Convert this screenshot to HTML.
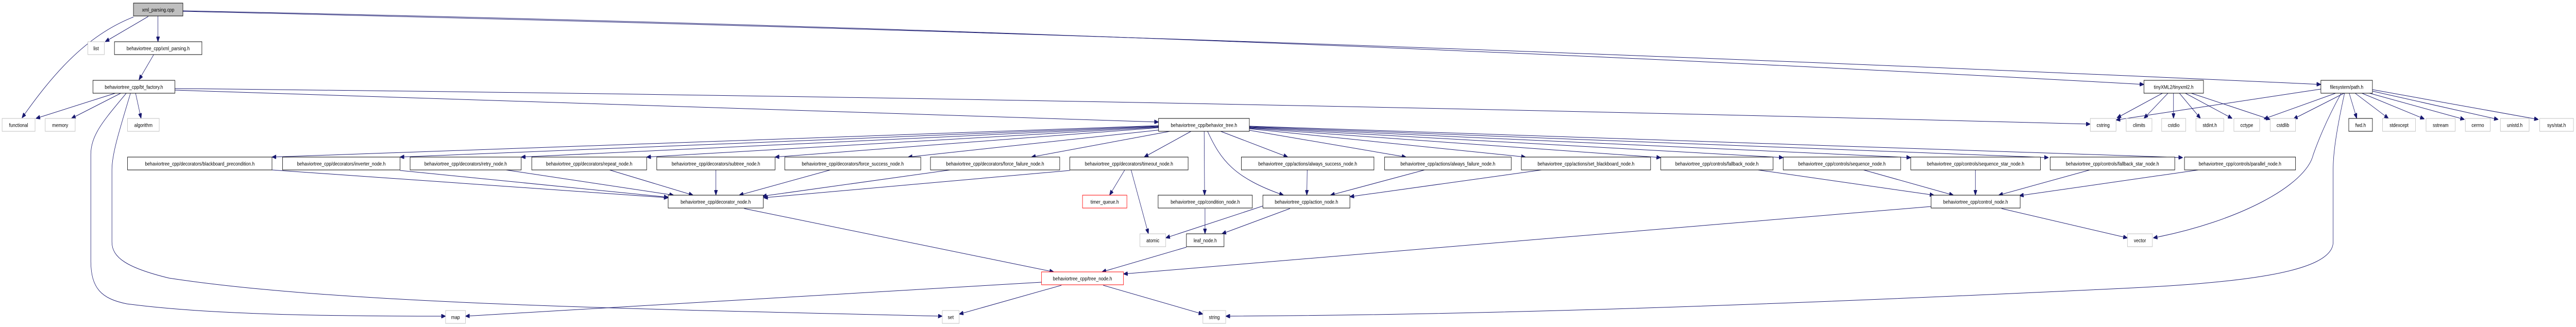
<!DOCTYPE html>
<html><head><meta charset="utf-8"><style>
html,body{margin:0;padding:0;background:#fff;width:100%;height:100%;overflow:hidden;}
svg{display:block;width:100vw;height:100vh;}
text{font-family:"Liberation Sans",sans-serif;font-size:10.5px;fill:#000;text-anchor:middle;}
.e{stroke:#191970;stroke-width:1;fill:none;marker-end:url(#a);}
.n{fill:#fff;stroke:#000;stroke-width:1;}
.g{fill:#fff;stroke:#bfbfbf;stroke-width:1;}
.r{fill:#fff;stroke:#ff0000;stroke-width:1;}
</style></head><body>
<svg viewBox="0 0 6099 635" preserveAspectRatio="none" xmlns="http://www.w3.org/2000/svg">
<defs><marker id="a" markerUnits="userSpaceOnUse" markerWidth="10" markerHeight="8" refX="10" refY="4" orient="auto"><path d="M0,0 L10,4 L0,8 z" fill="#191970" stroke="#191970"/></marker></defs>
<g>
<path class="e" d="M316,33 C200,70 120,150 52,229"/>
<line class="e" x1="351" y1="32" x2="249" y2="81"/>
<line class="e" x1="374" y1="31" x2="374" y2="81"/>
<path class="e" d="M433,21 Q2800,60 5076,164"/>
<path class="e" d="M433,22 Q3000,70 5495,164"/>
<line class="e" x1="364" y1="106" x2="329" y2="155"/>
<line class="e" x1="273" y1="181" x2="85" y2="230"/>
<line class="e" x1="286" y1="181" x2="169" y2="230"/>
<line class="e" x1="321" y1="181" x2="334" y2="230"/>
<path class="e" d="M299,181 C250,230 215,260 215,300 L215,506 C215,560 240,580 300,590 C500,612 800,614 1055,614"/>
<path class="e" d="M309,181 C280,260 265,300 265,330 L265,470 C265,500 300,520 400,540 C800,590 1500,600 2231,614"/>
<path class="e" d="M414,175 Q1500,200 2743,237"/>
<path class="e" d="M414,172 Q2600,190 4949,241"/>
<line class="e" x1="2743" y1="244" x2="644" y2="305"/>
<line class="e" x1="2743" y1="245" x2="947" y2="305"/>
<line class="e" x1="2743" y1="246" x2="1234" y2="305"/>
<line class="e" x1="2743" y1="247" x2="1531" y2="305"/>
<line class="e" x1="2743" y1="248" x2="1835" y2="305"/>
<line class="e" x1="2750" y1="252" x2="2150" y2="305"/>
<line class="e" x1="2770" y1="255" x2="2442" y2="305"/>
<line class="e" x1="2820" y1="255" x2="2709" y2="305"/>
<line class="e" x1="2851" y1="255" x2="2852" y2="379"/>
<path class="e" d="M2859,255 C2890,310 2920,345 3039,379"/>
<line class="e" x1="2890" y1="255" x2="3049" y2="305"/>
<line class="e" x1="2958" y1="253" x2="3329" y2="305"/>
<line class="e" x1="2958" y1="250" x2="3612" y2="305"/>
<line class="e" x1="2958" y1="249" x2="3932" y2="306"/>
<line class="e" x1="2958" y1="248" x2="4222" y2="306"/>
<line class="e" x1="2958" y1="247" x2="4524" y2="306"/>
<line class="e" x1="2958" y1="246" x2="4850" y2="306"/>
<line class="e" x1="2958" y1="245" x2="5168" y2="306"/>
<line class="e" x1="644" y1="330" x2="1582" y2="384"/>
<line class="e" x1="947" y1="331" x2="1582" y2="383"/>
<line class="e" x1="1198" y1="330" x2="1595" y2="379"/>
<line class="e" x1="1443" y1="330" x2="1641" y2="379"/>
<line class="e" x1="1695" y1="330" x2="1695" y2="379"/>
<line class="e" x1="1966" y1="330" x2="1750" y2="379"/>
<line class="e" x1="2250" y1="330" x2="1805" y2="381"/>
<line class="e" x1="2533" y1="331" x2="1808" y2="384"/>
<line class="e" x1="2663" y1="330" x2="2627" y2="379"/>
<line class="e" x1="2678" y1="330" x2="2719" y2="454"/>
<line class="e" x1="2853" y1="405" x2="2853" y2="454"/>
<line class="e" x1="2990" y1="400" x2="2760" y2="462"/>
<line class="e" x1="3054" y1="405" x2="2893" y2="454"/>
<line class="e" x1="3095" y1="330" x2="3094" y2="379"/>
<line class="e" x1="3373" y1="330" x2="3150" y2="379"/>
<line class="e" x1="3650" y1="330" x2="3196" y2="382"/>
<line class="e" x1="2809" y1="480" x2="2609" y2="528"/>
<line class="e" x1="1762" y1="405" x2="2495" y2="528"/>
<line class="e" x1="4572" y1="401" x2="2660" y2="532"/>
<line class="e" x1="2513" y1="554" x2="2271" y2="610"/>
<line class="e" x1="2612" y1="554" x2="2848" y2="610"/>
<line class="e" x1="2466" y1="548" x2="1102" y2="614"/>
<line class="e" x1="4162" y1="330" x2="4579" y2="379"/>
<line class="e" x1="4412" y1="330" x2="4625" y2="379"/>
<line class="e" x1="4677" y1="330" x2="4677" y2="379"/>
<line class="e" x1="4948" y1="330" x2="4732" y2="379"/>
<line class="e" x1="5205" y1="330" x2="4781" y2="380"/>
<line class="e" x1="4739" y1="405" x2="5037" y2="462"/>
<line class="e" x1="5495" y1="173" x2="5010" y2="233"/>
<line class="e" x1="5530" y1="181" x2="5360" y2="231"/>
<line class="e" x1="5550" y1="181" x2="5430" y2="231"/>
<line class="e" x1="5562" y1="181" x2="5580" y2="230"/>
<line class="e" x1="5576" y1="181" x2="5655" y2="230"/>
<line class="e" x1="5592" y1="181" x2="5740" y2="231"/>
<line class="e" x1="5610" y1="181" x2="5835" y2="232"/>
<line class="e" x1="5617" y1="177" x2="5915" y2="232"/>
<line class="e" x1="5617" y1="174" x2="6010" y2="232"/>
<path class="e" d="M5543,181 C5510,230 5490,270 5477,300 C5460,360 5300,430 5098,462"/>
<path class="e" d="M5551,181 C5530,260 5524,300 5524,330 L5524,470 C5524,530 5300,550 5000,561 C4000,600 3400,612 2902,614"/>
<line class="e" x1="5120" y1="181" x2="5012" y2="229"/>
<line class="e" x1="5133" y1="181" x2="5076" y2="230"/>
<line class="e" x1="5146" y1="181" x2="5146" y2="230"/>
<line class="e" x1="5160" y1="181" x2="5210" y2="230"/>
<line class="e" x1="5174" y1="181" x2="5285" y2="230"/>
<line class="e" x1="5188" y1="181" x2="5375" y2="232"/>
</g>
<g>
<rect x="316" y="6" width="117" height="25" fill="#bfbfbf" stroke="#000"/><text x="374.5" y="22.5">xml_parsing.cpp</text>
<rect class="g" x="208" y="81" width="39" height="25"/><text x="227.5" y="97.5">list</text>
<rect class="n" x="271" y="81" width="207" height="25"/><text x="374.5" y="97.5">behaviortree_cpp/xml_parsing.h</text>
<rect class="n" x="220" y="156" width="194" height="25"/><text x="317" y="172.5">behaviortree_cpp/bt_factory.h</text>
<rect class="n" x="5076" y="156" width="141" height="25"/><text x="5146.5" y="172.5">tinyXML2/tinyxml2.h</text>
<rect class="n" x="5495" y="156" width="122" height="25"/><text x="5556" y="172.5">filesystem/path.h</text>
<rect class="g" x="5" y="230" width="78" height="25"/><text x="44" y="246.5">functional</text>
<rect class="g" x="107" y="230" width="71" height="25"/><text x="142.5" y="246.5">memory</text>
<rect class="g" x="302" y="230" width="75" height="25"/><text x="339.5" y="246.5">algorithm</text>
<rect class="n" x="2743" y="230" width="215" height="25"/><text x="2850.5" y="246.5">behaviortree_cpp/behavior_tree.h</text>
<rect class="g" x="4949" y="230" width="61" height="25"/><text x="4979.5" y="246.5">cstring</text>
<rect class="g" x="5034" y="230" width="61" height="25"/><text x="5064.5" y="246.5">climits</text>
<rect class="g" x="5118" y="230" width="57" height="25"/><text x="5146.5" y="246.5">cstdio</text>
<rect class="g" x="5199" y="230" width="66" height="25"/><text x="5232" y="246.5">stdint.h</text>
<rect class="g" x="5289" y="230" width="61" height="25"/><text x="5319.5" y="246.5">cctype</text>
<rect class="g" x="5375" y="230" width="60" height="25"/><text x="5405" y="246.5">cstdlib</text>
<rect class="n" x="5561" y="230" width="56" height="25"/><text x="5589" y="246.5">fwd.h</text>
<rect class="g" x="5641" y="230" width="78" height="25"/><text x="5680" y="246.5">stdexcept</text>
<rect class="g" x="5744" y="230" width="69" height="25"/><text x="5778.5" y="246.5">sstream</text>
<rect class="g" x="5837" y="230" width="59" height="25"/><text x="5866.5" y="246.5">cerrno</text>
<rect class="g" x="5920" y="230" width="68" height="25"/><text x="5954" y="246.5">unistd.h</text>
<rect class="g" x="6013" y="230" width="80" height="25"/><text x="6053" y="246.5">sys/stat.h</text>
<rect class="n" x="302" y="305" width="342" height="25"/><text x="473" y="321.5">behaviortree_cpp/decorators/blackboard_precondition.h</text>
<rect class="n" x="669" y="305" width="278" height="25"/><text x="808" y="321.5">behaviortree_cpp/decorators/inverter_node.h</text>
<rect class="n" x="971" y="305" width="263" height="25"/><text x="1102.5" y="321.5">behaviortree_cpp/decorators/retry_node.h</text>
<rect class="n" x="1259" y="305" width="272" height="25"/><text x="1395" y="321.5">behaviortree_cpp/decorators/repeat_node.h</text>
<rect class="n" x="1555" y="305" width="280" height="25"/><text x="1695" y="321.5">behaviortree_cpp/decorators/subtree_node.h</text>
<rect class="n" x="1858" y="305" width="322" height="25"/><text x="2019" y="321.5">behaviortree_cpp/decorators/force_success_node.h</text>
<rect class="n" x="2203" y="305" width="306" height="25"/><text x="2356" y="321.5">behaviortree_cpp/decorators/force_failure_node.h</text>
<rect class="n" x="2533" y="305" width="280" height="25"/><text x="2673" y="321.5">behaviortree_cpp/decorators/timeout_node.h</text>
<rect class="n" x="2939" y="305" width="314" height="25"/><text x="3096" y="321.5">behaviortree_cpp/actions/always_success_node.h</text>
<rect class="n" x="3278" y="305" width="300" height="25"/><text x="3428" y="321.5">behaviortree_cpp/actions/always_failure_node.h</text>
<rect class="n" x="3602" y="305" width="306" height="25"/><text x="3755" y="321.5">behaviortree_cpp/actions/set_blackboard_node.h</text>
<rect class="n" x="3932" y="305" width="266" height="25"/><text x="4065" y="321.5">behaviortree_cpp/controls/fallback_node.h</text>
<rect class="n" x="4222" y="305" width="278" height="25"/><text x="4361" y="321.5">behaviortree_cpp/controls/sequence_node.h</text>
<rect class="n" x="4524" y="305" width="307" height="25"/><text x="4677.5" y="321.5">behaviortree_cpp/controls/sequence_star_node.h</text>
<rect class="n" x="4854" y="305" width="295" height="25"/><text x="5001.5" y="321.5">behaviortree_cpp/controls/fallback_star_node.h</text>
<rect class="n" x="5172" y="305" width="263" height="25"/><text x="5303.5" y="321.5">behaviortree_cpp/controls/parallel_node.h</text>
<rect class="n" x="1582" y="379" width="225" height="25"/><text x="1694.5" y="395.5">behaviortree_cpp/decorator_node.h</text>
<rect class="r" x="2563" y="379" width="105" height="25"/><text x="2615.5" y="395.5">timer_queue.h</text>
<rect class="n" x="2742" y="379" width="223" height="25"/><text x="2853.5" y="395.5">behaviortree_cpp/condition_node.h</text>
<rect class="n" x="2990" y="379" width="206" height="25"/><text x="3093" y="395.5">behaviortree_cpp/action_node.h</text>
<rect class="n" x="4572" y="379" width="211" height="25"/><text x="4677.5" y="395.5">behaviortree_cpp/control_node.h</text>
<rect class="g" x="2699" y="454" width="61" height="25"/><text x="2729.5" y="470.5">atomic</text>
<rect class="n" x="2809" y="454" width="89" height="25"/><text x="2853.5" y="470.5">leaf_node.h</text>
<rect class="g" x="5037" y="454" width="59" height="25"/><text x="5066.5" y="470.5">vector</text>
<rect class="r" x="2466" y="528" width="194" height="25"/><text x="2563" y="544.5">behaviortree_cpp/tree_node.h</text>
<rect class="g" x="1055" y="603" width="47" height="25"/><text x="1078.5" y="619.5">map</text>
<rect class="g" x="2231" y="603" width="40" height="25"/><text x="2251" y="619.5">set</text>
<rect class="g" x="2848" y="603" width="54" height="25"/><text x="2875" y="619.5">string</text>
</g>
</svg>
</body></html>
